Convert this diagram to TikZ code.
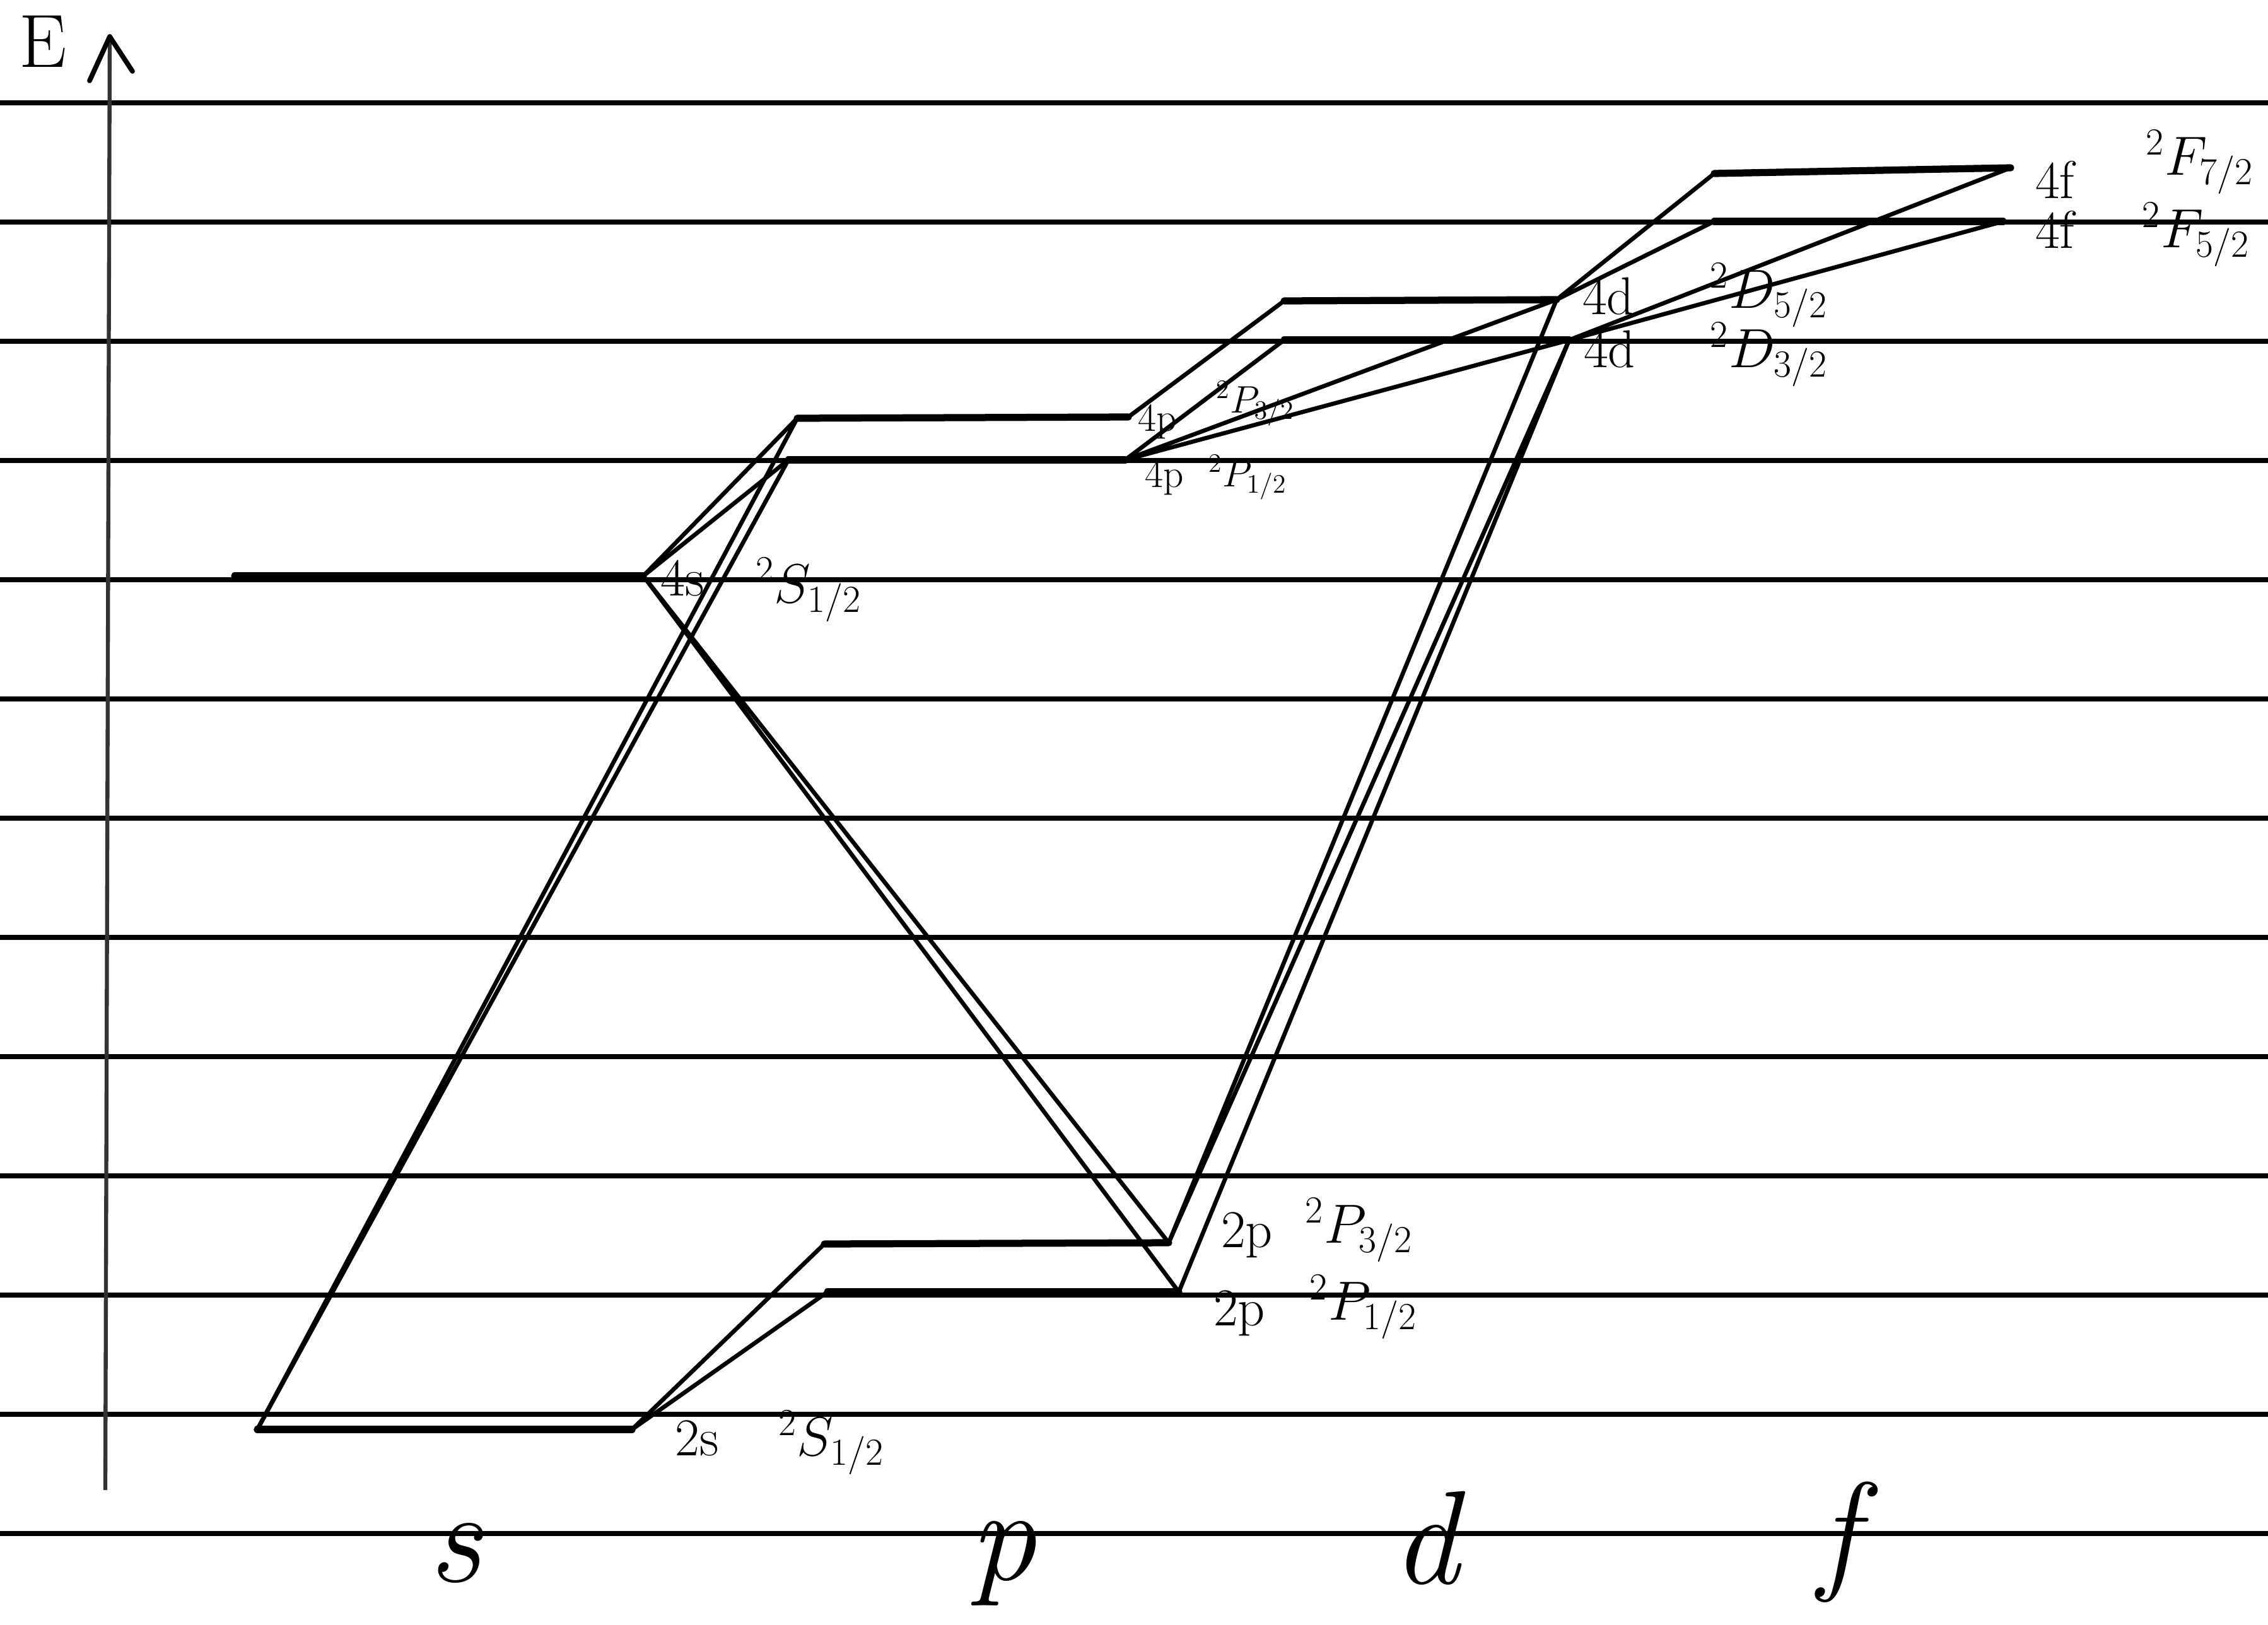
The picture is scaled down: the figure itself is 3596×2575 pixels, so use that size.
\documentclass[tikz,border=0pt]{standalone}
\usepackage{fontspec}
\begin{document}
\begin{tikzpicture}[x=0.01cm,y=-0.01cm,
  rule/.style={line width=2.2pt, black},
  level/.style={line width=3.2pt, line cap=round},
  trans/.style={line width=1.9pt, line cap=round},
  lab/.style={font=\fontsize{24}{26}\selectfont, inner sep=0pt},
  smalllab/.style={font=\fontsize{18}{20}\selectfont, inner sep=0pt},
  elab/.style={font=\fontsize{34}{38}\selectfont, inner sep=0pt},
  axislab/.style={font=\fontsize{60}{64}\selectfont\itshape, inner sep=0pt}]
\useasboundingbox (0,0) rectangle (3596,2575);
\fill[white] (0,0) rectangle (3596,2575);
% ruled paper lines
\foreach \k in {0,...,12} \draw[rule] (0,163+189*\k) -- (3596,163+189*\k);
% energy axis
\coordinate (axB) at (167,2362);
\coordinate (axT) at (174,58);
\coordinate (ahL) at (142,128);
\coordinate (ahR) at (210,113);
\draw[line width=1.8pt, black!80] (axB) -- (axT);
\draw[line width=2.2pt, line cap=round, line join=round] (ahL) -- (axT) -- (ahR);
\node[elab] (E) at (68,66) {E};
% level end points
\coordinate (s2L) at (408,2266);
\coordinate (s2R) at (1002,2266);
\coordinate (p2aL) at (1307,1972);
\coordinate (p2aR) at (1853,1970);
\coordinate (p2bL) at (1312,2048);
\coordinate (p2bR) at (1869,2048);
\coordinate (s4L) at (372,913);
\coordinate (s4R) at (1020,913);
\coordinate (p4aL) at (1264,663);
\coordinate (p4aR) at (1789,661);
\coordinate (p4bL) at (1250,729);
\coordinate (p4bR) at (1784,729);
\coordinate (d4aL) at (2036,477);
\coordinate (d4aR) at (2468,475);
\coordinate (d4bL) at (2036,539);
\coordinate (d4bR) at (2488,539);
\coordinate (f4aL) at (2718,275);
\coordinate (f4aR) at (3188,266);
\coordinate (f4bL) at (2718,351);
\coordinate (f4bR) at (3176,351);
% levels
\draw[level] (s2L) -- (s2R);
\draw[level] (p2aL) -- (p2aR);
\draw[level] (p2bL) -- (p2bR);
\draw[level] (s4L) -- (s4R);
\draw[level] (p4aL) -- (p4aR);
\draw[level] (p4bL) -- (p4bR);
\draw[level] (d4aL) -- (d4aR);
\draw[level] (d4bL) -- (d4bR);
\draw[level] (f4aL) -- (f4aR);
\draw[level] (f4bL) -- (f4bR);
% transitions
\draw[trans] (s2L) -- (p4aL);
\draw[trans] (s2L) -- (p4bL);
\draw[trans] (s2R) -- (p2aL);
\draw[trans] (s2R) -- (p2bL);
\draw[trans] (s4R) -- (p4aL);
\draw[trans] (s4R) -- (p4bL);
\draw[trans] (s4R) -- (p2aR);
\draw[trans] (s4R) -- (p2bR);
\draw[trans] (p2aR) -- (d4aR);
\draw[trans] (p2aR) -- (d4bR);
\draw[trans] (p2bR) -- (d4bR);
\draw[trans] (p4aR) -- (d4aL);
\draw[trans] (p4bR) -- (d4bL);
\draw[trans] (p4bR) -- (d4aR);
\draw[trans] (p4bR) -- (d4bR);
\draw[trans] (d4aR) -- (f4aL);
\draw[trans] (d4aR) -- (f4bL);
\draw[trans] (d4bR) -- (f4aR);
\draw[trans] (d4bR) -- (f4bR);
% labels
\node[lab] (l2s) at (1105,2280) {2s};
\node[lab] (t2s) at (1318,2287) {$^2S_{1/2}$};
\node[lab] (l2pa) at (1977,1958) {2p};
\node[lab] (t2pa) at (2155,1950) {$^2P_{3/2}$};
\node[lab] (l2pb) at (1965,2082) {2p};
\node[lab] (t2pb) at (2162,2072) {$^2P_{1/2}$};
\node[lab] (l4s) at (1082,917) {4s};
\node[lab] (t4s) at (1282,935) {$^2S_{1/2}$};
\node[smalllab] (l4pa) at (1835,668) {4p};
\node[smalllab] (t4pa) at (1990,640) {$^2P_{3/2}$};
\node[smalllab] (l4pb) at (1846,757) {4p};
\node[smalllab] (t4pb) at (1978,757) {$^2P_{1/2}$};
\node[lab] (l4da) at (2550,470) {4d};
\node[lab] (t4da) at (2805,468) {$^2D_{5/2}$};
\node[lab] (l4db) at (2552,554) {4d};
\node[lab] (t4db) at (2805,562) {$^2D_{3/2}$};
\node[lab] (l4fa) at (3258,285) {4f};
\node[lab] (t4fa) at (3488,257) {$^2F_{7/2}$};
\node[lab] (l4fb) at (3258,364) {4f};
\node[lab] (t4fb) at (3482,372) {$^2F_{5/2}$};
% orbital axis letters
\node[axislab] (ls) at (722,2462) {s};
\node[axislab] (lp) at (1590,2478) {p};
\node[axislab] (ld) at (2260,2438) {d};
\node[axislab] (lf) at (2915,2445) {f};
\end{tikzpicture}
\end{document}
